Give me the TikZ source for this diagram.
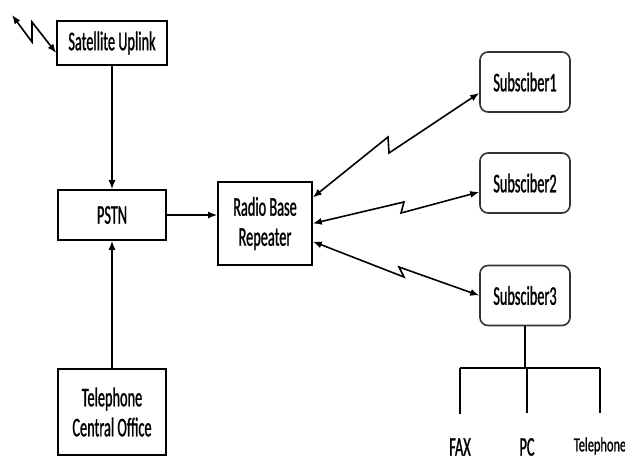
\documentclass[tikz,border=0pt]{standalone}
\usepackage{fontspec}
\setmainfont[FakeStretch=0.53, FakeBold=1]{Carlito}
\newfontfamily\tagfont[FakeStretch=0.62, FakeBold=1]{Carlito}
\usetikzlibrary{arrows.meta}

\begin{document}
\begin{tikzpicture}[x=0.5pt, y=-0.5pt, line width=0.8pt,
        >={Latex[length=4.5pt,width=3.5pt]},
        font=\fontsize{13.5}{15}\selectfont,
        box/.style = {draw, align=center, inner sep=2pt},
        sub/.style = {draw=black!80, rounded corners=4pt, minimum width=45pt, minimum height=30pt},
        leaf/.style = {inner sep=2pt}]
        \useasboundingbox (0,0) rectangle (625,460);

        % left column
        \node[box, minimum width=55pt, minimum height=22pt] (sat) at (112,43) {Satellite Uplink};
        \node[box, minimum width=54pt, minimum height=25pt] (pstn) at (112,215) {PSTN};
        \node[box, minimum width=54pt, minimum height=43pt] (tco) at (112,412) {Telephone\\Central Office};
        \node[box, minimum width=47pt, minimum height=41.5pt] (rbr) at (265,223.5) {Radio Base\\Repeater};

        % subscribers
        \node[sub] (sub1) at (525,82) {Subsciber1};
        \node[sub] (sub2) at (525,183) {Subsciber2};
        \node[sub] (sub3) at (525,295.5) {Subsciber3};

        \node[leaf] (fax) at (460,447) {FAX};
        \node[leaf] (pc) at (527,447) {PC};
        \node[leaf, font=\tagfont\fontsize{10}{12}\selectfont] (tel) at (600,446) {Telephone};

        \draw[->] (sat) -- (pstn);
        \draw[->] (tco) -- (pstn);
        \draw[->] (pstn.east) -- (pstn.east -| rbr.west);

        % radio links
        \coordinate (sky) at (12,15);
        \coordinate (s1) at (32,42);
        \coordinate (s2) at (32,22);
        \draw[<->] (sky) -- (s1) -- (s2) -- ([yshift=-5pt]sat.west);

        \coordinate (z1a) at (388,137);
        \coordinate (z1b) at (389,153);
        \draw[<->] ([yshift=13pt]rbr.east) -- (z1a) -- (z1b) -- ([yshift=-5.5pt]sub1.west);

        \coordinate (z2a) at (404,202);
        \coordinate (z2b) at (401,213);
        \draw[<->] (rbr.east) -- (z2a) -- (z2b) -- ([yshift=-4.5pt]sub2.west);

        \coordinate (z3a) at (404,277);
        \coordinate (z3b) at (399,267);
        \draw[<->] ([yshift=-9pt]rbr.east) -- (z3a) -- (z3b) -- (sub3.west);

        % terminal equipment
        \coordinate (split) at (525,368);
        \draw (sub3.south) -- (split);
        \draw (split -| fax) -- (split -| tel);
        \draw[shorten >=10pt] (split -| fax) -- (fax.north);
        \draw[shorten >=10pt] (split -| pc) -- (pc.north);
        \draw[shorten >=10pt] (split -| tel) -- (tel.north);

    \end{tikzpicture}
\end{document}
